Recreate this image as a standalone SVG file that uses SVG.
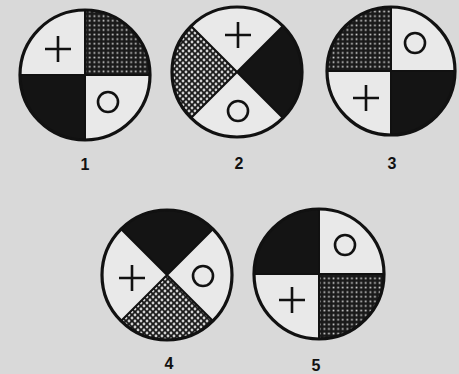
<svg xmlns="http://www.w3.org/2000/svg" width="459" height="374" viewBox="0 0 459 374">
<defs>
<pattern id="grid" width="4.6" height="4.6" patternUnits="userSpaceOnUse">
<rect width="4.6" height="4.6" fill="#1a1a1a"/>
<rect x="1.5" y="1.5" width="1.7" height="1.7" fill="#cfcfcf"/>
</pattern>
<pattern id="dots" width="6" height="6" patternUnits="userSpaceOnUse">
<rect width="6" height="6" fill="#1a1a1a"/>
<circle cx="0" cy="0" r="1.4" fill="#d0d0d0"/>
<circle cx="6" cy="0" r="1.4" fill="#d0d0d0"/>
<circle cx="0" cy="6" r="1.4" fill="#d0d0d0"/>
<circle cx="6" cy="6" r="1.4" fill="#d0d0d0"/>
<circle cx="3" cy="3" r="1.4" fill="#d0d0d0"/>
</pattern>
<style>
.w{fill:#e9e9e9}
.b{fill:#141414}
.g{fill:url(#grid)}
.d{fill:url(#dots)}
.ring{fill:none;stroke:#111;stroke-width:3.2}
.div{stroke:#111;stroke-width:2;fill:none}
.sym{stroke:#111;stroke-width:2.6;fill:none}
.lbl{font-family:"Liberation Sans",Arial,sans-serif;font-weight:bold;font-size:16px;fill:#111;text-anchor:middle}
</style>
</defs>
<rect width="459" height="374" fill="#d9d9d9"/>

<g id="disc1">
<path class="w" d="M85,75 L20,75 A65,65 0 0 1 85,10 Z"/>
<path class="g" d="M85,75 L85,10 A65,65 0 0 1 150,75 Z"/>
<path class="w" d="M85,75 L150,75 A65,65 0 0 1 85,140 Z"/>
<path class="b" d="M85,75 L85,140 A65,65 0 0 1 20,75 Z"/>
<path class="div" d="M85,10 V140 M20,75 H150"/>
<circle class="ring" cx="85" cy="75" r="65"/>
<path class="sym" d="M45,49 H71 M58,36 V62"/>
<circle class="sym" cx="108" cy="102" r="10"/>
<text class="lbl" x="85" y="170">1</text>
</g>

<g id="disc2">
<path class="w" d="M237,72 L191,26 A65,65 0 0 1 283,26 Z"/>
<path class="b" d="M237,72 L283,26 A65,65 0 0 1 283,118 Z"/>
<path class="w" d="M237,72 L283,118 A65,65 0 0 1 191,118 Z"/>
<path class="d" d="M237,72 L191,118 A65,65 0 0 1 191,26 Z"/>
<path class="div" d="M191,26 L283,118 M283,26 L191,118"/>
<circle class="ring" cx="237" cy="72" r="65"/>
<path class="sym" d="M225,35 H251 M238,22 V48"/>
<circle class="sym" cx="238" cy="111" r="10"/>
<text class="lbl" x="239" y="169">2</text>
</g>

<g id="disc3">
<path class="g" d="M391,71 L327,71 A64,64 0 0 1 391,7 Z"/>
<path class="w" d="M391,71 L391,7 A64,64 0 0 1 455,71 Z"/>
<path class="b" d="M391,71 L455,71 A64,64 0 0 1 391,135 Z"/>
<path class="w" d="M391,71 L391,135 A64,64 0 0 1 327,71 Z"/>
<path class="div" d="M391,7 V135 M327,71 H455"/>
<circle class="ring" cx="391" cy="71" r="64"/>
<path class="sym" d="M353,98 H379 M366,85 V111"/>
<circle class="sym" cx="415" cy="43" r="10"/>
<text class="lbl" x="392" y="169">3</text>
</g>

<g id="disc4">
<path class="b" d="M167,275 L121,229 A65,65 0 0 1 213,229 Z"/>
<path class="w" d="M167,275 L213,229 A65,65 0 0 1 213,321 Z"/>
<path class="d" d="M167,275 L213,321 A65,65 0 0 1 121,321 Z"/>
<path class="w" d="M167,275 L121,321 A65,65 0 0 1 121,229 Z"/>
<path class="div" d="M121,229 L213,321 M213,229 L121,321"/>
<circle class="ring" cx="167" cy="275" r="65"/>
<path class="sym" d="M119,278 H145 M132,265 V291"/>
<circle class="sym" cx="203" cy="276" r="10"/>
<text class="lbl" x="169" y="369">4</text>
</g>

<g id="disc5">
<path class="b" d="M319,274 L254,274 A65,65 0 0 1 319,209 Z"/>
<path class="w" d="M319,274 L319,209 A65,65 0 0 1 384,274 Z"/>
<path class="g" d="M319,274 L384,274 A65,65 0 0 1 319,339 Z"/>
<path class="w" d="M319,274 L319,339 A65,65 0 0 1 254,274 Z"/>
<path class="div" d="M319,209 V339 M254,274 H384"/>
<circle class="ring" cx="319" cy="274" r="65"/>
<path class="sym" d="M279,300 H305 M292,287 V313"/>
<circle class="sym" cx="345" cy="245" r="10"/>
<text class="lbl" x="316" y="371">5</text>
</g>
</svg>
